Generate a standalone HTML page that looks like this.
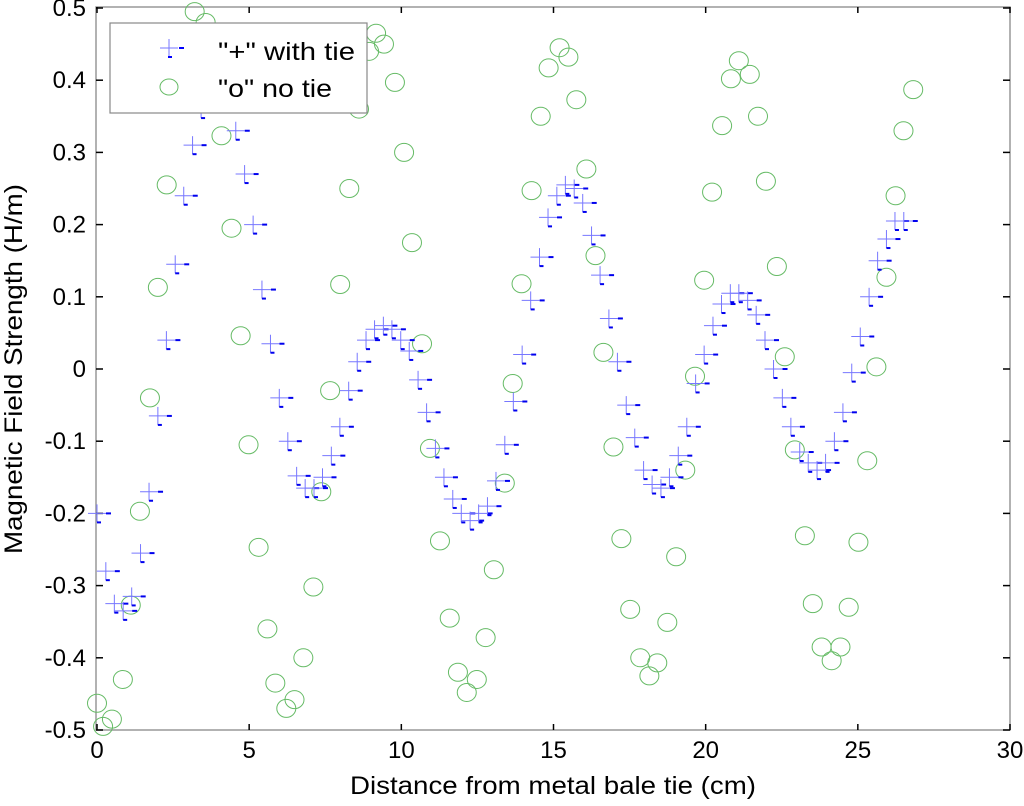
<!DOCTYPE html>
<html><head><meta charset="utf-8"><style>
body{margin:0;background:#fff;}
svg{display:block;font-family:"Liberation Sans",sans-serif;}
</style></head><body>
<svg id="chart" width="1024" height="806">
<rect x="96" y="7" width="914" height="723" fill="#fff" stroke="#999" stroke-width="1.5"/>
<g id="ticks"></g>
<g id="marks"></g>
<text x="553" y="794" font-size="25" text-anchor="middle" textLength="406" lengthAdjust="spacingAndGlyphs">Distance from metal bale tie (cm)</text>
<text transform="translate(22,369) rotate(-90)" font-size="25" text-anchor="middle" textLength="370" lengthAdjust="spacingAndGlyphs">Magnetic Field Strength (H/m)</text>
<g>
<rect x="110" y="23" width="257" height="90" fill="#fff" stroke="#888" stroke-width="1.2"/>
<g>
<line x1="160" y1="48" x2="178" y2="48" stroke="#7777ff" stroke-width="1"/>
<line x1="169" y1="39" x2="169" y2="57" stroke="#7777ff" stroke-width="1"/>
<line x1="179" y1="48" x2="184" y2="48" stroke="#0000ff" stroke-width="2"/>
<line x1="168" y1="57" x2="172" y2="57" stroke="#0000ff" stroke-width="2"/>
<text x="218" y="60" font-size="25" textLength="137" lengthAdjust="spacingAndGlyphs">"+" with tie</text>
</g>
<g>
<ellipse cx="169" cy="87" rx="9" ry="8" fill="none" stroke="#66bb66" stroke-width="1"/>
<text x="218" y="97" font-size="25" textLength="114" lengthAdjust="spacingAndGlyphs">"o" no tie</text>
</g>
</g>
</svg>
<script>
const xTicks=[0,5,10,15,20,25,30];
const yTicks=[0.5,0.4,0.3,0.2,0.1,0,-0.1,-0.2,-0.3,-0.4,-0.5];
const yTickLabels=["0.5","0.4","0.3","0.2","0.1","0","-0.1","-0.2","-0.3","-0.4","-0.5"];
const tieX=[0,0.29,0.57,0.86,1.14,1.43,1.71,2.00,2.28,2.57,2.85,3.14,3.42,3.71,3.99,4.28,4.56,4.85,5.13,5.42,5.70,5.99,6.27,6.56,6.84,7.13,7.41,7.70,7.98,8.27,8.55,8.84,9.12,9.41,9.69,9.98,10.26,10.55,10.83,11.12,11.40,11.69,11.97,12.26,12.54,12.83,13.11,13.40,13.68,13.97,14.25,14.54,14.82,15.11,15.39,15.68,15.96,16.25,16.53,16.82,17.10,17.39,17.67,17.96,18.24,18.53,18.81,19.10,19.38,19.67,19.95,20.24,20.52,20.81,21.09,21.38,21.66,21.95,22.23,22.52,22.80,23.09,23.37,23.66,23.94,24.23,24.51,24.80,25.08,25.37,25.65,25.94,26.22,26.51];
const tieY=[-0.20,-0.28,-0.325,-0.335,-0.315,-0.255,-0.17,-0.065,0.04,0.145,0.24,0.31,0.36,0.39,0.40,0.37,0.33,0.27,0.20,0.11,0.035,-0.04,-0.10,-0.148,-0.165,-0.165,-0.15,-0.12,-0.08,-0.03,0.01,0.04,0.055,0.06,0.055,0.04,0.025,-0.015,-0.06,-0.11,-0.15,-0.18,-0.20,-0.21,-0.20,-0.19,-0.155,-0.105,-0.045,0.02,0.095,0.155,0.21,0.24,0.255,0.25,0.23,0.185,0.13,0.07,0.01,-0.05,-0.095,-0.14,-0.16,-0.165,-0.15,-0.12,-0.08,-0.02,0.02,0.06,0.09,0.105,0.105,0.095,0.075,0.04,0.0,-0.04,-0.08,-0.115,-0.13,-0.14,-0.13,-0.10,-0.06,-0.005,0.045,0.10,0.15,0.18,0.205,0.205];
const noTieX=[0,0.2,0.49,0.85,1.11,1.41,1.74,2.0,2.29,2.59,2.88,3.21,3.57,3.83,4.09,4.42,4.72,4.98,5.31,5.6,5.86,6.22,6.49,6.78,7.11,7.37,7.66,7.99,8.29,8.61,8.94,9.17,9.43,9.79,10.09,10.35,10.68,10.94,11.27,11.59,11.86,12.15,12.48,12.77,13.04,13.4,13.66,13.95,14.28,14.58,14.84,15.2,15.49,15.75,16.08,16.38,16.64,16.97,17.23,17.52,17.85,18.15,18.41,18.74,19.03,19.33,19.65,19.95,20.21,20.54,20.83,21.09,21.45,21.72,21.98,22.34,22.6,22.93,23.26,23.52,23.81,24.14,24.43,24.7,25.02,25.31,25.61,25.94,26.24,26.5,26.82];
const noTieY=[-0.463,-0.495,-0.485,-0.43,-0.327,-0.197,-0.04,0.113,0.255,0.385,0.455,0.495,0.48,0.42,0.323,0.195,0.046,-0.105,-0.247,-0.36,-0.435,-0.47,-0.458,-0.40,-0.302,-0.17,-0.03,0.117,0.25,0.36,0.44,0.465,0.45,0.397,0.30,0.175,0.035,-0.11,-0.238,-0.345,-0.42,-0.448,-0.43,-0.372,-0.278,-0.158,-0.02,0.118,0.247,0.35,0.417,0.445,0.432,0.373,0.277,0.157,0.023,-0.108,-0.235,-0.333,-0.40,-0.425,-0.407,-0.351,-0.26,-0.14,-0.01,0.123,0.245,0.337,0.402,0.427,0.408,0.35,0.26,0.142,0.017,-0.112,-0.231,-0.325,-0.385,-0.404,-0.385,-0.33,-0.24,-0.127,0.003,0.127,0.24,0.33,0.387];

const NS='http://www.w3.org/2000/svg';
const X0=97,X1=1010,Y0=730,Y1=8;
function sx(v){return X0+(v-0)/30*(X1-X0);}
function sy(v){return Y0-(v+0.5)/1*(Y0-Y1);}
function mk(tag,attrs,parent){const e=document.createElementNS(NS,tag);for(const k in attrs)e.setAttribute(k,attrs[k]);parent.appendChild(e);return e;}
const tg=document.getElementById('ticks');
const mg=document.getElementById('marks');
xTicks.forEach(v=>{
  const x=sx(v);
  const g=mk('g',{},tg);
  
  
  mk('line',{x1:x,y1:730,x2:x,y2:724,stroke:'#000','stroke-width':1.5},g);
  mk('line',{x1:x,y1:7,x2:x,y2:13,stroke:'#000','stroke-width':1.5},g);
  const t=mk('text',{x:x,y:758,'font-size':24,'text-anchor':'middle'},g);
  t.textContent=String(v);
  
  
});
yTicks.forEach((v,i)=>{
  const y=sy(v);
  const g=mk('g',{},tg);
  
  
  mk('line',{x1:96,y1:y,x2:103,y2:y,stroke:'#000','stroke-width':1.5},g);
  mk('line',{x1:1010,y1:y,x2:1003,y2:y,stroke:'#000','stroke-width':1.5},g);
  const t=mk('text',{x:86,y:y+8,'font-size':24,'text-anchor':'end'},g);
  t.textContent=yTickLabels[i];
  
  
});
noTieX.forEach((v,i)=>{
  const c=mk('ellipse',{cx:sx(v),cy:sy(noTieY[i]),rx:9.5,ry:9,fill:'none',stroke:'#66bb66','stroke-width':1},mg);
  
  
});
tieX.forEach((v,i)=>{
  const x=sx(v),y=sy(tieY[i]);
  const g=mk('g',{},mg);
  
  
  mk('line',{x1:x-9,y1:y,x2:x+9,y2:y,stroke:'#7777ff','stroke-width':1},g);
  mk('line',{x1:x,y1:y-9,x2:x,y2:y+9,stroke:'#7777ff','stroke-width':1},g);
  mk('line',{x1:x+9,y1:y,x2:x+14,y2:y,stroke:'#0000ee','stroke-width':2},g);
  mk('line',{x1:x,y1:y+9,x2:x+4,y2:y+9,stroke:'#0000ee','stroke-width':2},g);
});
</script>
</body></html>
